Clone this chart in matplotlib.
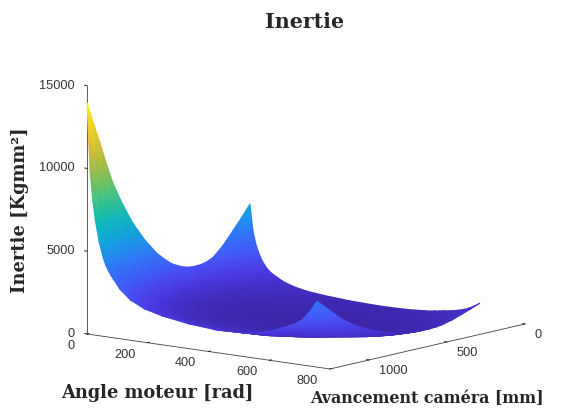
#!/usr/bin/python3
import matplotlib
matplotlib.use('Agg')
import matplotlib.pyplot as plt
import numpy as np
from matplotlib.colors import LinearSegmentedColormap, Normalize
from matplotlib.tri import Triangulation
from mpl_toolkits.mplot3d import proj3d

angle = [0, 5, 10, 18, 27, 39, 53, 61, 69, 77, 86, 108, 142, 187, 246, 329, 423, 511, 580, 610, 639, 665, 691, 709, 727, 742, 757]
avancement = [1250, 1209, 1167, 1125, 1083, 1020, 955, 878, 801, 753, 705, 657, 609, 567, 525, 483, 442, 378, 314, 260, 205]

# one row per angle, one column per avancement
inertie = [
    [13970, 12650, 11380, 10000, 8720, 7300, 6040, 4850, 3895, 3440, 3050, 2810, 2640, 2590, 2600, 2690, 2866, 3450, 4214, 4870, 5590],
    [11870, 10750, 9670, 8500, 7410, 6200, 5130, 4120, 3310, 2920, 2590, 2390, 2240, 2200, 2210, 2290, 2440, 2930, 3580, 4140, 4750],
    [9920, 8980, 8080, 7100, 6190, 5180, 4290, 3440, 2770, 2440, 2170, 2000, 1870, 1840, 1850, 1910, 2030, 2450, 2990, 3460, 3970],
    [8240, 7460, 6710, 5900, 5140, 4310, 3560, 2860, 2300, 2030, 1800, 1660, 1560, 1530, 1530, 1590, 1690, 2040, 2490, 2870, 3300],
    [6990, 6330, 5690, 5000, 4360, 3650, 3020, 2430, 1950, 1720, 1530, 1410, 1320, 1300, 1300, 1350, 1430, 1730, 2110, 2440, 2800],
    [5730, 5190, 4670, 4100, 3580, 2990, 2480, 1990, 1600, 1410, 1250, 1150, 1080, 1060, 1070, 1100, 1180, 1410, 1730, 2000, 2290],
    [4750, 4300, 3870, 3400, 2960, 2480, 2050, 1650, 1320, 1170, 1040, 960, 900, 880, 880, 910, 970, 1170, 1430, 1660, 1900],
    [4360, 3950, 3550, 3120, 2720, 2280, 1880, 1510, 1220, 1070, 950, 880, 820, 810, 810, 840, 890, 1080, 1310, 1520, 1740],
    [4050, 3670, 3300, 2900, 2530, 2120, 1750, 1410, 1130, 1000, 880, 810, 770, 750, 750, 780, 830, 1000, 1220, 1410, 1620],
    [3800, 3440, 3100, 2720, 2370, 1990, 1640, 1320, 1060, 940, 830, 760, 720, 700, 710, 730, 780, 940, 1150, 1320, 1520],
    [3560, 3230, 2900, 2550, 2220, 1860, 1540, 1240, 990, 880, 780, 720, 670, 660, 660, 690, 730, 880, 1070, 1240, 1430],
    [3000, 2720, 2450, 2150, 1870, 1570, 1300, 1040, 840, 740, 660, 600, 570, 560, 560, 580, 620, 740, 910, 1050, 1200],
    [2440, 2210, 1990, 1750, 1530, 1280, 1060, 850, 680, 600, 530, 490, 460, 450, 460, 470, 500, 600, 740, 850, 980],
    [2030, 1830, 1650, 1450, 1260, 1060, 880, 700, 560, 500, 440, 410, 380, 380, 380, 390, 420, 500, 610, 710, 810],
    [1750, 1580, 1420, 1250, 1090, 910, 760, 610, 490, 430, 380, 350, 330, 320, 330, 340, 360, 430, 530, 610, 700],
    [1510, 1370, 1230, 1080, 940, 790, 650, 520, 420, 370, 330, 300, 290, 280, 280, 290, 310, 370, 460, 530, 600],
    [1370, 1240, 1120, 980, 850, 720, 590, 480, 380, 340, 300, 280, 260, 250, 250, 260, 280, 340, 410, 480, 550],
    [1420, 1290, 1160, 1020, 890, 740, 620, 490, 400, 350, 310, 290, 270, 260, 270, 270, 290, 350, 430, 500, 570],
    [1650, 1490, 1340, 1180, 1030, 860, 710, 570, 460, 410, 360, 330, 310, 310, 310, 320, 340, 410, 500, 570, 660],
    [1820, 1640, 1480, 1300, 1130, 950, 790, 630, 510, 450, 400, 370, 340, 340, 340, 350, 370, 450, 550, 630, 730],
    [2050, 1860, 1670, 1470, 1280, 1070, 890, 710, 570, 510, 450, 410, 390, 380, 380, 400, 420, 510, 620, 720, 820],
    [2240, 2020, 1820, 1600, 1400, 1170, 970, 780, 620, 550, 490, 450, 420, 410, 420, 430, 460, 550, 670, 780, 890],
    [2490, 2250, 2030, 1780, 1550, 1300, 1080, 860, 690, 610, 540, 500, 470, 460, 460, 480, 510, 610, 750, 870, 1000],
    [2750, 2490, 2240, 1970, 1720, 1440, 1190, 960, 770, 680, 600, 550, 520, 510, 510, 530, 560, 680, 830, 960, 1100],
    [3130, 2830, 2550, 2240, 1950, 1640, 1350, 1090, 870, 770, 680, 630, 590, 580, 580, 600, 640, 770, 940, 1090, 1250],
    [3520, 3190, 2870, 2520, 2200, 1840, 1520, 1220, 980, 870, 770, 710, 670, 650, 660, 680, 720, 870, 1060, 1230, 1410],
    [3980, 3610, 3240, 2850, 2490, 2080, 1720, 1380, 1110, 980, 870, 800, 750, 740, 740, 770, 820, 980, 1200, 1390, 1590],
]

x_ticks = [0, 200, 400, 600, 800]
y_ticks = [0, 500, 1000]
z_ticks = [0, 5000, 10000, 15000]

parula = LinearSegmentedColormap.from_list('parula', [
    (0.00, (0.24, 0.15, 0.66)),
    (0.10, (0.29, 0.22, 0.88)),
    (0.19, (0.27, 0.35, 0.98)),
    (0.30, (0.16, 0.51, 0.96)),
    (0.385, (0.08, 0.65, 0.87)),
    (0.46, (0.00, 0.73, 0.78)),
    (0.57, (0.24, 0.78, 0.51)),
    (0.74, (0.75, 0.73, 0.20)),
    (0.845, (0.98, 0.72, 0.23)),
    (0.93, (0.97, 0.85, 0.15)),
    (1.00, (0.98, 0.98, 0.08)),
])

plt.rcParams['font.family'] = ['Liberation Sans', 'DejaVu Sans']
W, H = 577, 412

fig = plt.figure(figsize=(W / 100, H / 100), dpi=100)
ax = fig.add_axes([0.1, 0.1, 0.8, 0.8 * W / H], projection='3d', proj_type='ortho')
ax.set_xlim(0, 800)
ax.set_ylim(1250, 0)
ax.set_zlim(0, 15000)
ax.set_xticks(x_ticks)
ax.set_yticks(y_ticks)
ax.set_zticks(z_ticks)
ax.set_xticklabels([''] * len(x_ticks))
ax.set_yticklabels([''] * len(y_ticks))
ax.set_zticklabels([''] * len(z_ticks))
ax.set_box_aspect((310, 315, 253))
ax.view_init(elev=10.5, azim=-51.7)
ax.grid(False)
ax.zaxis.set_ticks_position('upper')

for axis in (ax.xaxis, ax.yaxis, ax.zaxis):
    axis.set_pane_color((1, 1, 1, 0))
    axis.line.set_color('#404040')
    axis.line.set_linewidth(0.6)
    axis._axinfo['tick']['inward_factor'] = 0.0
    axis._axinfo['tick']['outward_factor'] = 0.12
    axis._axinfo['tick']['linewidth'] = {True: 0.6, False: 0.6}
    axis._axinfo['tick']['color'] = '#404040'


def project(x, y, z):
    px, py, depth = proj3d.proj_transform(x, y, z, ax.get_proj())
    return ax.transData.transform(np.column_stack([px, py])), depth


def corner(x, y, z):
    xy, _ = project(np.array([x], float), np.array([y], float), np.array([z], float))
    return xy[0]


# place the axes so the box corners land where they are in the reference
fig.canvas.draw()
width = ax.get_position(original=True).width
span = corner(800, 0, 0)[0] - corner(0, 1250, 0)[0]
width *= 438 / span
ax.set_position([0.1, 0.1, width, width * W / H])
fig.canvas.draw()
left_corner = corner(0, 1250, 0)
ax.set_position([0.1 + (87 - left_corner[0]) / W, 0.1 + (H - 334 - left_corner[1]) / H, width, width * W / H])
fig.canvas.draw()

# flat overlay in figure pixels: the surface is drawn with interpolated colours, like shading interp
over = fig.add_axes([0, 0, 1, 1], facecolor='none')
over.set_xlim(0, W)
over.set_ylim(0, H)
over.set_axis_off()

X, Y = np.meshgrid(angle, avancement, indexing='ij')
Z = np.array(inertie, dtype=float)
xy, depth = project(X.ravel().astype(float), Y.ravel().astype(float), Z.ravel())

nx, ny = Z.shape
ids = np.arange(nx * ny).reshape(nx, ny)
tris = np.vstack([
    np.column_stack([ids[:-1, :-1].ravel(), ids[1:, :-1].ravel(), ids[1:, 1:].ravel()]),
    np.column_stack([ids[:-1, :-1].ravel(), ids[1:, 1:].ravel(), ids[:-1, 1:].ravel()]),
])
# far triangles first
tris = tris[np.argsort(-depth[tris].mean(axis=1))]
over.tripcolor(Triangulation(xy[:, 0], xy[:, 1], tris), Z.ravel(), shading='gouraud',
               cmap=parula, norm=Normalize(Z.min(), Z.max()))

tick_style = dict(fontsize=9.2, color='#333333', va='center')
for t in x_ticks:
    p = corner(t, 1250, 0)
    over.text(p[0] - 12, p[1] - 12, str(t), ha='right', **tick_style)
for t in y_ticks:
    p = corner(800, t, 0)
    over.text(p[0] + 10, p[1] - 11, str(t), ha='left', **tick_style)
for t in z_ticks:
    p = corner(0, 1250, t)
    over.text(p[0] - 12, p[1], str(t), ha='right', **tick_style)

label_style = dict(family='DejaVu Serif', fontweight='bold', color='#262626', ha='center', va='center')
fig.text(305 / W, 1 - 22 / H, 'Inertie', fontsize=14.8, **label_style)
fig.text(157 / W, 1 - 393 / H, 'Angle moteur [rad]', fontsize=12.8, **label_style)
fig.text(427 / W, 1 - 399 / H, 'Avancement caméra [mm]', fontsize=11.4, **label_style)
fig.text(20 / W, 1 - 210 / H, 'Inertie [Kgmm²]', fontsize=12.9, rotation=90, **label_style)

fig.savefig('out.png', dpi=100)
